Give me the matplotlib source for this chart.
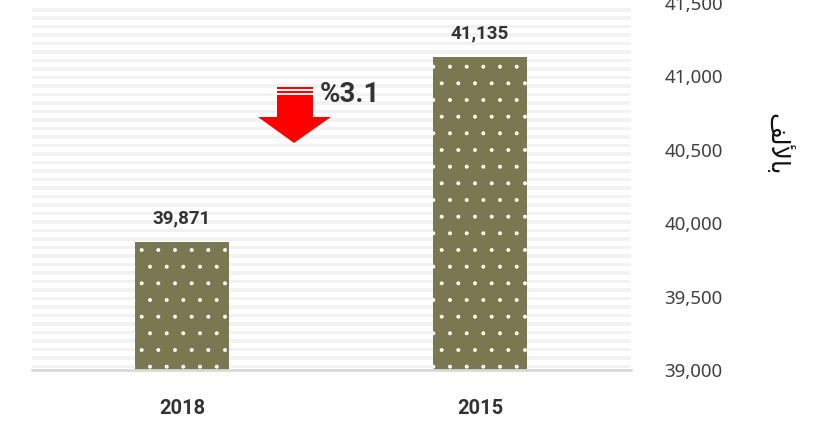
import numpy as np
import matplotlib.pyplot as plt
from matplotlib.patches import Rectangle, Polygon

years = ["2018", "2015"]
values = [39871, 41135]
change_label = "%3.1"
y_ticks = [39000, 39500, 40000, 40500, 41000, 41500]
unit_label = "\uFED2\uFEDF\uFEF7\uFE8E\uFE91"  # "بالألف" pre-shaped, visual order

plt.rcParams['font.family'] = ['Noto Sans', 'DejaVu Sans']
plt.rcParams['hatch.linewidth'] = 0.4
bold_font = ['Roboto', 'DejaVu Sans']

fig = plt.figure(figsize=(8.2, 4.22), dpi=100)
ax = fig.add_axes([32 / 820, 52 / 422, 599 / 820, 367 / 422])

# striped background
period = 8.5 / 367
h = 3.5 / 367
y0 = 1 - 5 / 367
while y0 - h > -0.01:
    ax.add_patch(Rectangle((0, y0 - h), 1, h, transform=ax.transAxes,
                           facecolor='#f2f2f2', edgecolor='none', zorder=0))
    y0 -= period

x = np.arange(len(years))
bars = ax.bar(x, values, width=0.315, color='#7a7850', edgecolor='white',
              linewidth=0, hatch='.', zorder=2)

for xi, v in zip(x, values):
    ax.text(xi, v + 160, f"{v:,}", ha='center', va='center', fontsize=13.5,
            fontweight='bold', color='#333333', family=bold_font)

ax.set_xlim(-0.503, 1.507)
ax.set_ylim(39000, 41500)
ax.set_xticks(x)
ax.set_xticklabels(years, fontsize=14.5, fontweight='bold', color='#333333',
                   family=bold_font)
ax.yaxis.tick_right()
ax.set_yticks(y_ticks)
ax.set_yticklabels([f"{t:,}" for t in y_ticks], fontsize=13.5, color='#404040')
ax.tick_params(axis='both', length=0)
ax.tick_params(axis='y', pad=24)
ax.tick_params(axis='x', pad=21)
for s in ['top', 'left', 'right']:
    ax.spines[s].set_visible(False)
ax.spines['bottom'].set_color('#d9d9d9')
ax.spines['bottom'].set_linewidth(2)

# down arrow with change label
def px(xp, yp):
    return ((xp - 32) / 599, (370 - yp) / 367)

arrow = [px(277, 95), px(313, 95), px(313, 117), px(331, 117), px(294, 143),
         px(258, 117), px(277, 117)]
ax.add_patch(Polygon(arrow, closed=True, transform=ax.transAxes,
                     facecolor='#ff0000', edgecolor='none', zorder=3))
for top, bot in [(87.3, 89.3), (90.7, 92.8)]:
    xa, ya = px(277, bot)
    ax.add_patch(Rectangle((xa, ya), 36 / 599, (bot - top) / 367,
                           transform=ax.transAxes, facecolor='#ff0000',
                           edgecolor='none', zorder=3))
xt, yt = px(320, 94)
ax.text(xt, yt, change_label, transform=ax.transAxes, fontsize=20,
        fontweight='bold', color='#333333', ha='left', va='center',
        family=bold_font)

fig.text(778 / 820, 1 - 144 / 422, unit_label, rotation=270, fontsize=18,
         color='#111111', ha='center', va='center', family=['DejaVu Sans'])

fig.savefig('out.png', dpi=100)
